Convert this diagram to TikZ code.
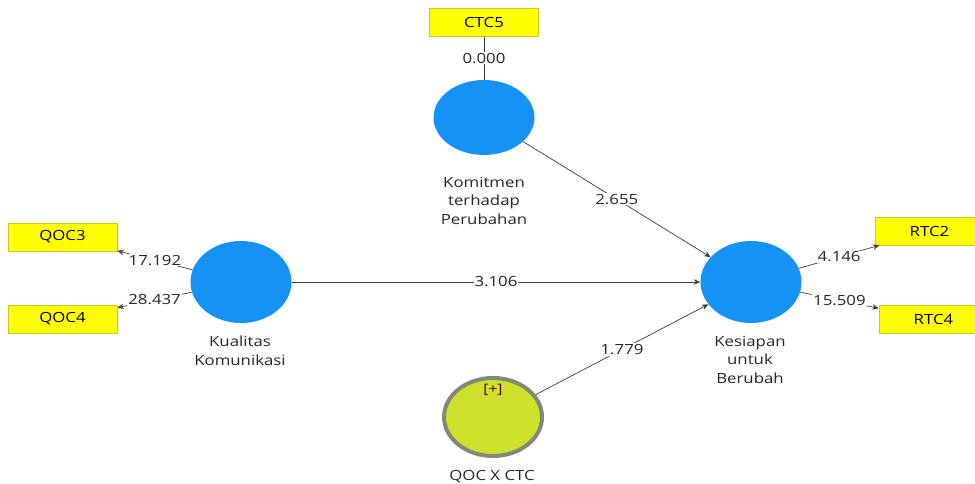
\documentclass[tikz,border=0pt]{standalone}
\usepackage{fontspec}
\setmainfont[FakeStretch=1.2]{Open Sans}
\usetikzlibrary{arrows.meta,shapes.geometric}
\definecolor{lvblue}{RGB}{22,145,245}
\definecolor{indyel}{RGB}{255,255,0}
\definecolor{indbord}{RGB}{200,200,30}
\definecolor{intfill}{RGB}{205,225,45}
\definecolor{intbord}{RGB}{128,138,118}
\definecolor{linegray}{RGB}{60,60,60}
\begin{document}
\begin{tikzpicture}[x=1pt,y=-1pt,
  latent/.style={ellipse,fill=lvblue,draw=none,minimum width=101pt,minimum height=82pt,inner sep=0},
  inter/.style={ellipse,fill=intfill,draw=intbord,line width=4pt,minimum width=98pt,minimum height=78pt,inner sep=0},
  ind/.style={rectangle,fill=indyel,draw=indbord,line width=0.6pt,minimum width=109pt,minimum height=28pt,inner sep=0,font=\fontsize{14}{15}\selectfont},
  captext/.style={align=center,inner sep=0,anchor=north,font=\fontsize{14}{18.5}\selectfont,text=black!85},
  conn/.style={draw=linegray,line width=0.7pt},
  arr/.style={conn,-{Stealth[length=6.5pt,width=5.5pt]}},
  lbl/.style={fill=white,inner sep=1pt,font=\fontsize{14}{15}\selectfont,text=black!85}
]
\useasboundingbox (0,0) rectangle (975,484);
% nodes
\node[latent,minimum height=75pt] (kom) at (484,117.5) {};
\node[latent] (kual) at (241,282) {};
\node[latent] (kes) at (751,282) {};
\node[inter] (qxc) at (493,417) {};
\node[font=\fontsize{13}{15}\selectfont,text=black!70!red] (plus) at (493,390) {[+]};
\node[ind] (ctc5) at (484,22.5) {CTC5};
\node[ind] (qoc3) at (62.5,237) {QOC3};
\node[ind] (qoc4) at (62.5,319) {QOC4};
\node[ind] (rtc2) at (929.5,231) {RTC2};
\node[ind] (rtc4) at (933.5,319.5) {RTC4};
% captions
\node[captext] (kcap) at (484,177) {Komitmen\\terhadap\\Perubahan};
\node[captext] (kucap) at (240,336) {Kualitas\\Komunikasi};
\node[captext] (kecap) at (750,336) {Kesiapan\\untuk\\Berubah};
\node[captext] (qcap) at (492,470) {QOC X CTC};
% connectors
\draw[conn] (ctc5) -- node[lbl] {0.000} (kom);
\draw[arr] (kual) -- node[lbl] {17.192} (qoc3);
\draw[arr] (kual) -- node[lbl] {28.437} (qoc4);
\draw[arr] (kes) -- node[lbl] {4.146} (rtc2);
\draw[arr] (kes) -- node[lbl] {15.509} (rtc4);
\draw[arr] (kom) -- node[lbl] {2.655} (kes);
\draw[arr] (kual) -- node[lbl] {3.106} (kes);
\draw[arr] (qxc) -- node[lbl] {1.779} (kes);
\end{tikzpicture}
\end{document}
